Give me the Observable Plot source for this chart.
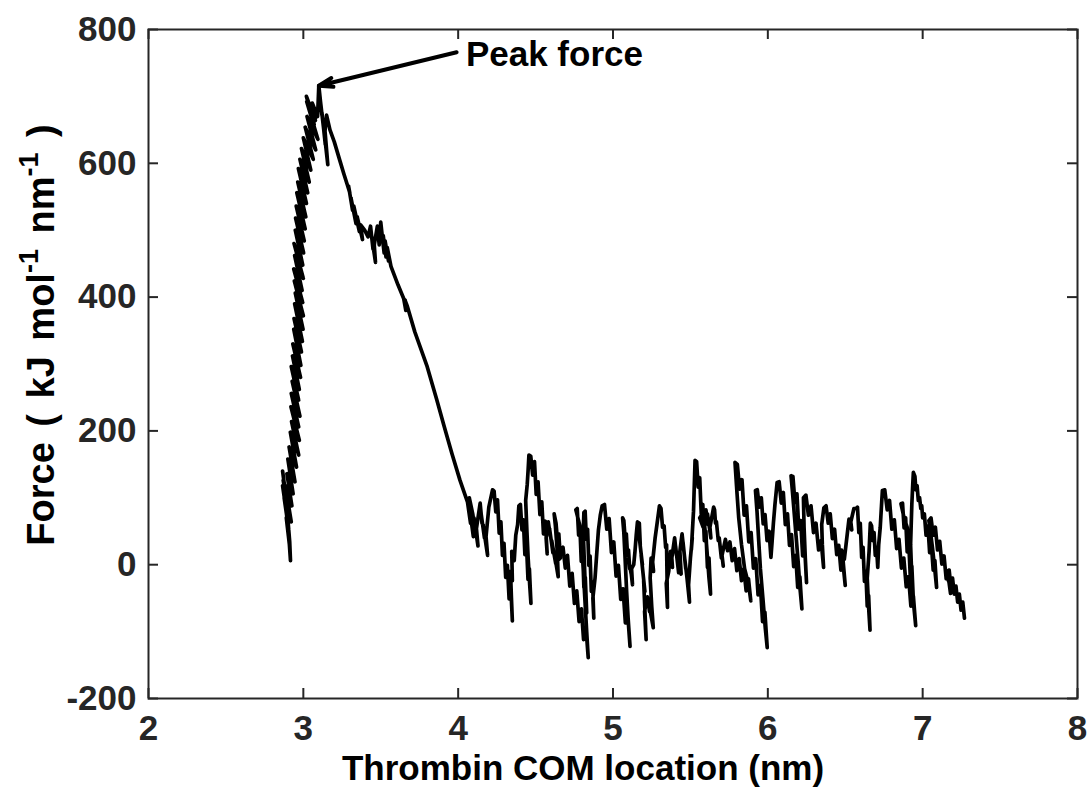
<!DOCTYPE html>
<html>
<head>
<meta charset="utf-8">
<script src="https://cdn.jsdelivr.net/npm/d3@7"></script>
<script src="https://cdn.jsdelivr.net/npm/@observablehq/plot@0.6"></script>
<style>
  html, body { margin: 0; padding: 0; background: #fff; }
</style>
</head>
<body>
<div id="chart"></div>
<script>
// ---- Data: Thrombin COM location (nm) vs Force (kJ mol^-1 nm^-1) ----
const risePhase = [
  [2.866,140],[2.890,98],[2.870,126],[2.900,84],[2.866,118],[2.896,70],[2.876,100],[2.906,52],[2.890,70],[2.910,30],
  [2.917,6],[2.912,34],[2.896,80],[2.922,64],[2.884,118],[2.926,88],[2.894,136],[2.934,106],[2.900,158],[2.946,124],
  [2.908,176],[2.956,146],[2.916,198],[2.970,164],[2.924,214],[2.974,186],[2.920,236],[2.970,206],[2.922,256],[2.978,222],
  [2.928,274],[2.970,246],[2.922,296],[2.974,262],[2.930,312],[2.982,280],[2.932,330],[2.984,298],[2.938,352],[2.988,318],
  [2.940,368],[2.994,334],[2.944,390],[2.998,352],[2.948,406],[3.000,372],[2.942,424],[2.996,392],[2.938,442],[2.992,410],
  [2.944,462],[3.000,428],[2.940,480],[2.996,448],[2.948,500],[3.002,466],[2.950,518],[3.006,484],[2.954,536],[3.012,502],
  [2.958,556],[3.016,520],[2.964,572],[3.020,540],[2.968,592],[3.028,556],[2.978,606],[3.038,572],[2.988,622],[3.048,590],
  [3.000,638],[3.064,606],[3.012,654],[3.080,620],[3.024,670],[3.094,636],[3.022,692],[3.070,658],[3.020,700],[3.078,664],
  [3.058,690],[3.092,670],[3.100,716]
];
const descentPhase = [
  [3.112,690],[3.104,706],[3.120,672],[3.110,694],[3.132,650],[3.120,676],[3.142,628],[3.128,660],[3.158,598],[3.140,648],
  [3.150,672],[3.172,650],[3.200,632],[3.236,604],[3.262,584],[3.284,568],[3.300,556],[3.292,566],[3.318,530],[3.308,548],
  [3.340,510],[3.326,536],[3.362,498],[3.348,520],[3.382,486],[3.370,508],[3.396,500],[3.418,490],[3.434,506],[3.450,472],
  [3.442,490],[3.466,452],[3.458,478],[3.478,506],[3.490,478],[3.500,512],[3.512,486],[3.522,466],[3.516,492],[3.534,460],
  [3.528,484],[3.550,454],[3.542,474],[3.566,446],[3.612,418],[3.648,398],[3.662,380],[3.656,396],[3.672,386],[3.720,348],
  [3.800,296],[3.860,248],[3.908,208],[3.960,166],[4.012,126],[4.060,94]
];
const plateauPhase = [
  [4.080,62],[4.074,84],[4.098,42],[4.088,70],[4.072,100],[4.094,76],[4.110,50],[4.102,70],[4.128,28],[4.118,54],
  [4.142,92],[4.154,62],[4.146,80],[4.170,40],[4.160,60],[4.190,14],[4.180,42],[4.198,86],
  [4.222,112],[4.232,110],[4.243,79],[4.254,97],[4.265,47],[4.276,64],[4.286,14],[4.296,32],[4.307,-19],[4.318,-1],
  [4.329,-51],[4.340,-34],[4.350,-84],
  [4.344,-50],[4.338,-10],[4.350,-24],[4.346,20],[4.362,6],[4.372,44],[4.384,60],
  [4.392,88],[4.402,90],[4.412,52],[4.421,67],[4.431,15],[4.441,31],[4.451,-22],[4.460,-6],[4.470,-58],
  [4.462,-30],[4.452,10],[4.444,50],[4.436,96],[4.446,120],[4.452,142],
  [4.457,164],[4.469,162],[4.481,134],[4.493,154],[4.504,105],[4.516,124],[4.528,75],[4.540,94],[4.551,46],[4.563,65],
  [4.575,16],
  [4.568,40],[4.582,64],[4.596,42],[4.590,54],[4.612,18],[4.604,36],[4.630,2],[4.622,16],[4.646,-18],
  [4.640,20],[4.628,58],[4.620,76],[4.632,62],[4.640,40],[4.650,46],[4.660,10],[4.652,8],
  [4.662,22],[4.677,26],[4.692,-5],[4.706,14],[4.721,-32],[4.736,-13],[4.751,-58],[4.766,-39],[4.781,-85],[4.796,-66],
  [4.810,-112],[4.825,-93],[4.840,-139],
  [4.830,-100],[4.818,-50],[4.806,0],[4.796,40],[4.784,60],
  [4.760,82],[4.769,84],[4.778,44],[4.786,58],[4.795,5],[4.804,20],[4.812,-34],[4.821,-19],[4.830,-72],
  [4.822,-40],[4.814,10],[4.808,50],
  [4.812,78],[4.820,80],[4.828,38],[4.836,53],[4.844,-1],[4.852,13],[4.860,-40],[4.868,-26],[4.876,-80],
  [4.870,-50],[4.884,-20],[4.896,20],[4.906,52],[4.918,74],
  [4.930,88],[4.945,90],[4.960,53],[4.975,69],[4.990,18],[5.005,34],[5.020,-17],[5.035,-1],[5.050,-52],[5.065,-36],
  [5.080,-87],[5.095,-71],[5.110,-122],
  [5.100,-90],[5.088,-40],[5.078,10],[5.070,48],[5.062,70],[5.070,66],[5.078,40],[5.086,46],[5.094,14],[5.100,22],
  [5.108,-6],[5.100,8],[5.118,-14],[5.126,-30],[5.120,-6],[5.134,0],[5.142,20],[5.150,44],
  [5.158,64],[5.170,62],[5.176,30],[5.168,44],[5.190,0],[5.182,14],[5.206,-40],[5.198,-24],[5.214,-112],[5.204,-70],
  [5.222,-48],[5.236,-70],[5.230,-56],[5.260,-94],[5.250,-62],[5.240,-20],[5.246,10],[5.262,-10],[5.256,4],[5.272,40],
  [5.286,64],
  [5.300,88],[5.310,84],[5.320,56],[5.330,58],[5.340,26],[5.346,30],[5.352,-64],[5.344,-28],[5.360,-10],[5.372,20],
  [5.384,-4],[5.380,10],[5.398,40],[5.410,14],[5.404,28],[5.424,-12],[5.418,2],[5.440,-14],[5.432,20],[5.446,46],
  [5.458,20],[5.452,34],[5.470,-6],[5.464,8],[5.486,-36],[5.478,-20],[5.494,-56],[5.488,-30],[5.500,10],[5.512,40],
  [5.506,22],[5.520,80],
  [5.530,156],[5.540,154],[5.550,116],[5.560,130],[5.570,76],[5.580,90],[5.590,36],[5.600,50],[5.610,-4],[5.620,10],
  [5.630,-44],
  [5.620,-20],[5.604,30],[5.590,62],[5.576,76],[5.560,70],[5.582,56],[5.600,82],[5.614,60],[5.610,76],[5.632,40],
  [5.626,56],[5.650,86],
  [5.656,82],[5.662,62],[5.668,64],[5.680,36],[5.686,40],[5.700,10],[5.704,14],[5.712,-2],[5.704,14],[5.726,38],
  [5.740,21],[5.755,34],[5.770,6],[5.785,24],[5.800,-9],[5.815,9],[5.830,-24],[5.845,-6],[5.860,-39],[5.875,-21],
  [5.890,-54],
  [5.876,-30],[5.850,-6],[5.830,30],[5.812,70],[5.800,110],
  [5.788,153],[5.803,150],[5.818,113],[5.833,127],[5.847,74],[5.862,88],[5.877,34],[5.892,48],[5.907,-5],[5.922,9],
  [5.937,-45],[5.952,-31],[5.966,-85],[5.981,-71],[5.996,-124],
  [5.984,-96],[5.968,-50],[5.952,-6],[5.940,40],[5.930,80],
  [5.920,111],[5.932,112],[5.945,86],[5.958,100],[5.970,61],[5.982,75],[5.995,36],[6.008,50],[6.020,11],
  [6.028,36],[6.036,62],[6.046,90],
  [6.060,123],[6.073,124],[6.087,92],[6.100,108],[6.113,60],[6.127,76],[6.140,29],[6.153,45],[6.167,-3],[6.180,14],
  [6.193,-34],[6.207,-18],[6.220,-66],
  [6.208,-36],[6.196,4],[6.182,44],[6.168,84],[6.158,112],
  [6.150,133],[6.162,132],[6.175,93],[6.188,106],[6.200,53],[6.212,66],[6.225,13],[6.238,26],[6.250,-27],
  [6.242,10],[6.234,56],
  [6.230,100],[6.246,104],[6.262,74],[6.279,88],[6.295,48],[6.311,62],[6.328,22],[6.344,36],[6.360,-4],
  [6.352,30],[6.348,60],
  [6.362,85],[6.376,88],[6.390,62],[6.403,76],[6.417,39],[6.431,53],[6.445,15],[6.458,29],[6.472,-8],[6.486,6],
  [6.500,-31],
  [6.488,-4],[6.476,22],[6.494,8],[6.510,40],[6.524,68],[6.542,52],[6.536,64],[6.556,84],
  [6.570,84],[6.579,86],[6.588,48],[6.597,62],[6.606,11],[6.615,26],[6.624,-25],[6.633,-10],[6.642,-62],[6.651,-46],
  [6.660,-98],
  [6.650,-60],[6.642,-20],[6.654,20],
  [6.662,62],[6.670,58],[6.678,36],[6.686,48],[6.694,14],[6.702,26],[6.710,-4],
  [6.716,30],[6.726,56],[6.734,88],
  [6.740,111],[6.755,112],[6.771,82],[6.786,96],[6.801,53],[6.817,67],[6.832,24],[6.847,38],[6.863,-5],[6.878,10],
  [6.894,-33],[6.909,-18],[6.924,-62],[6.940,-47],[6.955,-91],
  [6.942,-60],[6.928,-20],[6.914,20],[6.900,56],[6.880,70],
  [6.860,91],[6.870,92],[6.880,55],[6.890,70],[6.900,19],[6.910,34],[6.920,-18],[6.930,-2],[6.940,-54],
  [6.930,-20],[6.922,30],[6.930,90],[6.936,120],
  [6.940,138],[6.950,132],[6.956,112],[6.964,118],[6.972,96],[6.980,100],[6.988,84],[6.994,88],[7.000,70],
  [7.011,76],[7.022,44],[7.034,58],[7.045,18],[7.056,32],[7.068,-8],[7.079,6],[7.090,-34],
  [7.078,-6],[7.064,24],[7.050,50],
  [7.040,66],[7.054,70],[7.068,44],[7.082,56],[7.096,22],[7.110,35],[7.124,1],[7.138,13],[7.152,-21],[7.166,-9],
  [7.180,-43],
  [7.170,-26],
  [7.160,-20],[7.171,-8],[7.182,-32],[7.193,-20],[7.204,-44],[7.215,-32],[7.226,-56],[7.237,-44],[7.248,-68],[7.259,-56],
  [7.270,-80]
];

const xDomain = [2, 8];
const yDomain = [-200, 800];
const xTicks = [2, 3, 4, 5, 6, 7, 8];
const yTicks = [-200, 0, 200, 400, 600, 800];
const xLabel = "Thrombin COM location (nm)";
const yLabelParts = ["Force ( kJ mol", "-1", " nm", "-1", " )"];
const annotationText = ["Peak force"];
const annotationTextPos = [[4.05, 746]];
const annotationArrow = [[3.99, 766, 3.10, 716]]; // tail x, tail y, tip x, tip y

// ---- Layout ----
const W = 1091, H = 791;
const mL = 148, mR = 14, mT = 29, mB = 93;
const plotW = W - mL - mR, plotH = H - mT - mB;
const tickLen = 10;
const axisColor = "#262626";
const font = "'Liberation Sans', Arial, Helvetica, sans-serif";

const trace = [...risePhase, ...descentPhase, ...plateauPhase].map(([x, y]) => ({x, y}));
const xTickRows = xTicks.map(v => ({v}));
const yTickRows = yTicks.map(v => ({v}));

const chart = Plot.plot({
  width: W,
  height: H,
  marginLeft: mL, marginRight: mR, marginTop: mT, marginBottom: mB,
  style: {fontFamily: font, fontWeight: "bold", fontSize: "35px", color: axisColor, background: "#fff", overflow: "visible"},
  x: {domain: xDomain},
  y: {domain: yDomain},
  marks: [
    Plot.axisX({ticks: xTicks, tickSize: 0, tickPadding: 17, label: null, tickFormat: d => String(d)}),
    Plot.axisY({ticks: yTicks, tickSize: 0, tickPadding: 12, label: null, tickFormat: d => String(d)}),
    Plot.line(trace, {x: "x", y: "y", stroke: "#000", strokeWidth: 3.7, strokeLinejoin: "round", curve: "linear"}),
    Plot.arrow(annotationArrow, {x1: d => d[0], y1: d => d[1], x2: d => d[2], y2: d => d[3], stroke: "#000", strokeWidth: 4, headLength: 5.5, headAngle: 36}),
    Plot.text(annotationText, {x: (d, i) => annotationTextPos[i][0], y: (d, i) => annotationTextPos[i][1], text: d => d, textAnchor: "start", lineAnchor: "bottom", fill: "#000", fontSize: 35, fontWeight: "bold"}),
    // tick marks pointing inward on all four sides
    Plot.ruleX(xTickRows, {x: "v", insetTop: plotH - tickLen, stroke: axisColor, strokeWidth: 2}),
    Plot.ruleX(xTickRows, {x: "v", insetBottom: plotH - tickLen, stroke: axisColor, strokeWidth: 2}),
    Plot.ruleY(yTickRows, {y: "v", insetRight: plotW - tickLen, stroke: axisColor, strokeWidth: 2}),
    Plot.ruleY(yTickRows, {y: "v", insetLeft: plotW - tickLen, stroke: axisColor, strokeWidth: 2}),
    Plot.frame({stroke: axisColor, strokeWidth: 2})
  ]
});

const svg = d3.select(chart);
// x-axis title
svg.append("text")
  .attr("x", 583).attr("y", 780)
  .attr("text-anchor", "middle")
  .attr("fill", "#000")
  .style("font-family", font).style("font-weight", "bold").style("font-size", "35px")
  .text(xLabel);
// y-axis title with superscripts
const yl = svg.append("text")
  .attr("transform", "translate(54,335) rotate(-90)")
  .attr("text-anchor", "middle")
  .attr("fill", "#000")
  .style("font-family", font).style("font-weight", "bold").style("font-size", "38px")
  .style("word-spacing", "5px");
yl.append("tspan").text(yLabelParts[0]);
yl.append("tspan").attr("dy", -16).style("font-size", "27px").text(yLabelParts[1]);
yl.append("tspan").attr("dy", 16).text(yLabelParts[2]);
yl.append("tspan").attr("dy", -16).style("font-size", "27px").text(yLabelParts[3]);
yl.append("tspan").attr("dy", 16).text(yLabelParts[4]);

document.getElementById("chart").appendChild(chart);
</script>
</body>
</html>
